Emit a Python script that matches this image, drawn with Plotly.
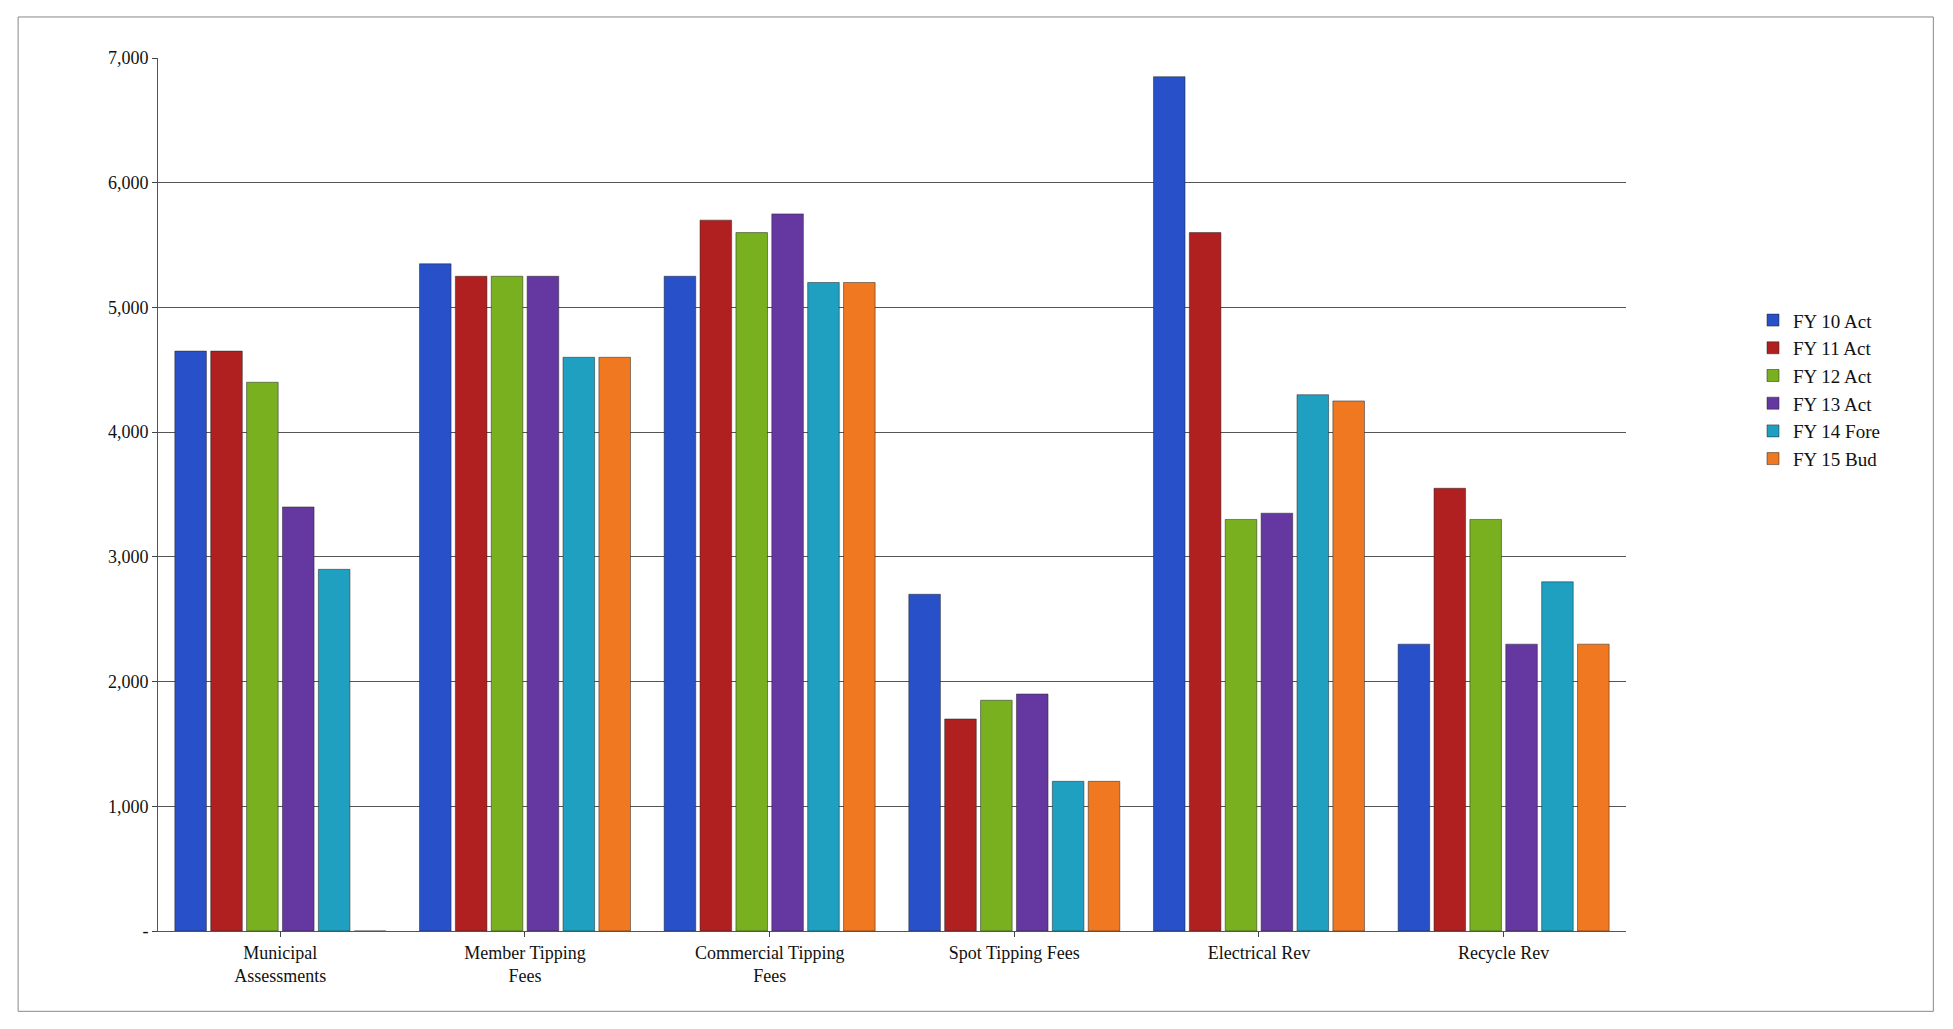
import plotly.graph_objects as go

categories = ['Municipal<br>Assessments', 'Member Tipping<br>Fees', 'Commercial Tipping<br>Fees',
              'Spot Tipping Fees', 'Electrical Rev', 'Recycle Rev']
series = ['FY 10 Act', 'FY 11 Act', 'FY 12 Act', 'FY 13 Act', 'FY 14 Fore', 'FY 15 Bud']
colors = ['#2850C8', '#B02020', '#78B020', '#6438A0', '#20A0C0', '#F07820']
values = [
    [4650, 5350, 5250, 2700, 6850, 2300],
    [4650, 5250, 5700, 1700, 5600, 3550],
    [4400, 5250, 5600, 1850, 3300, 3300],
    [3400, 5250, 5750, 1900, 3350, 2300],
    [2900, 4600, 5200, 1200, 4300, 2800],
    [0, 4600, 5200, 1200, 4250, 2300],
]
tick_vals = [0, 1000, 2000, 3000, 4000, 5000, 6000, 7000]
tick_text = ['-', '1,000', '2,000', '3,000', '4,000', '5,000', '6,000', '7,000']

fig = go.Figure()
for name, col, vals in zip(series, colors, values):
    fig.add_trace(go.Bar(x=categories, y=vals, name=name,
                         marker=dict(color=col, line=dict(color='#222', width=0.5))))

fig.update_layout(
    barmode='group', bargap=0.12, bargroupgap=0.12,
    paper_bgcolor='white', plot_bgcolor='white',
    font=dict(family='Liberation Serif', size=18, color='#111'),
    margin=dict(l=150, r=60, t=50, b=90),
    legend=dict(x=1.0, xanchor='right', y=0.62, yanchor='middle', font=dict(size=19),
                bgcolor='rgba(0,0,0,0)'),
    shapes=[dict(type='rect', xref='paper', yref='paper', x0=-0.081, x1=1.028, y0=-0.092, y1=1.047,
                 line=dict(color='#888', width=1))],
)
fig.update_yaxes(range=[0, 7000], tickvals=tick_vals, ticktext=tick_text,
                 showgrid=True, gridcolor='#555', gridwidth=1, showline=True,
                 linecolor='#555', ticks='outside')
fig.update_xaxes(showline=True, linecolor='#555', ticks='outside')
fig.update_layout(xaxis=dict(domain=[0, 0.85]))
fig.write_html("out.html")
